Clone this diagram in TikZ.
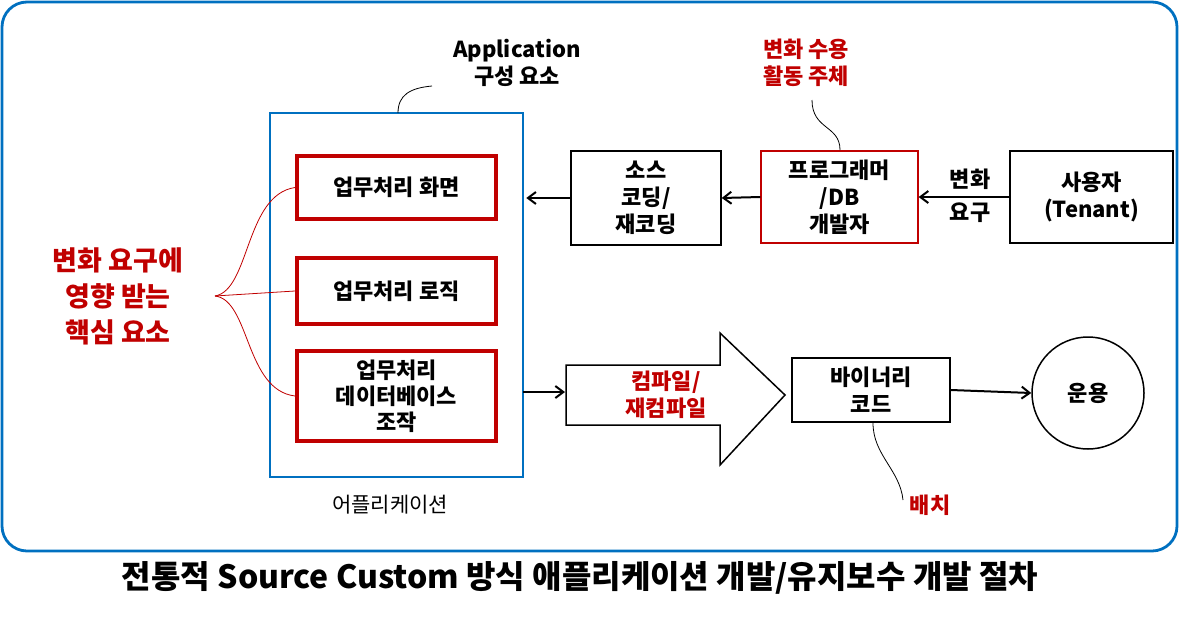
\documentclass[tikz,border=0pt]{standalone}
\usepackage{fontspec}
\setmainfont{Noto Sans CJK KR}
\usetikzlibrary{arrows.meta}
\definecolor{bl}{RGB}{0,112,192}
\definecolor{dr}{RGB}{192,0,0}
\begin{document}
\begin{tikzpicture}[x=1pt,y=-1pt,
  txt/.style={font=\fontsize{22}{27}\selectfont\bfseries,align=center},
  rbox/.style={draw=dr,line width=4pt,txt},
  kbox/.style={draw=black,line width=1.5pt,txt},
  arr/.style={-{Straight Barb[length=8pt,width=12pt]},line width=2pt},
  lead/.style={line width=0.8pt}]
\useasboundingbox (0,0) rectangle (1180,624);
\draw[bl,line width=2.8pt,rounded corners=25] (2,2) rectangle (1177,551);
\node[font=\fontsize{32}{36}\selectfont\bfseries] (title) at (580,578) {전통적 Source Custom 방식 애플리케이션 개발/유지보수 개발 절차};
\draw[bl,line width=1.3pt] (270,113) rectangle (523,477);
\node[rbox,minimum width=199pt,minimum height=63pt] (b1) at (396.5,187.5) {업무처리 화면};
\node[rbox,minimum width=199pt,minimum height=66pt] (b2) at (396.5,291) {업무처리 로직};
\node[rbox,minimum width=199pt,minimum height=90pt,font=\fontsize{22}{26}\selectfont\bfseries] (b3) at (396.5,396) {업무처리\\데이터베이스\\조작};
\node[txt] (appl) at (517,63) {Application\\구성 요소};
\coordinate (l1) at (398,113);
\draw[lead] (l1) .. controls (398,95) and (410,88) .. (432,86);
\node[font=\fontsize{21}{24}\selectfont] (apl) at (390,505) {어플리케이션};
\node[kbox,minimum width=150pt,minimum height=94pt] (src) at (646,198) {소스\\코딩/\\재코딩};
\node[draw=dr,line width=1.3pt,txt,minimum width=157pt,minimum height=92pt] (prog) at (839.5,197) {프로그래머\\/DB\\개발자};
\node[kbox,minimum width=163pt,minimum height=92pt] (user) at (1091.5,197) {사용자\\(Tenant)};
\node[txt,text=dr] (act) at (806,63) {변화 수용\\활동 주체};
\draw[lead] (840,150) .. controls (840,125) and (812,130) .. (812,100);
\node[txt] (req) at (970,196) {변화\\[6pt]요구};
\draw[arr] (user.west) -- (prog.east);
\draw[arr] (prog.west) -- (src.east);
\draw[arr] (src.west) -- ++(-44,0);
\node[font=\fontsize{27}{36}\selectfont\bfseries,text=dr,align=center] (core) at (118,296) {변화 요구에\\영향 받는\\핵심 요소};
\coordinate (c0) at (215,296);
\draw[dr,lead] (c0) .. controls (250,290) and (245,195) .. (b1.west);
\draw[dr,lead] (c0) -- (b2.west);
\draw[dr,lead] (c0) .. controls (250,300) and (245,390) .. (b3.west);
\draw[line width=1.5pt,fill=white] (566,365) -- (720,365) -- (720,333) -- (785,395) -- (720,465) -- (720,425) -- (566,425) -- cycle;
\node[txt,text=dr] (comp) at (666,395) {컴파일/\\재컴파일};
\draw[arr] (523,392) -- (565,392);
\node[kbox,minimum width=158pt,minimum height=64pt] (bin) at (871,390) {바이너리\\코드};
\node[draw,circle,line width=1.5pt,minimum size=112pt,txt] (op) at (1088,393) {운용};
\draw[arr] (bin.east) -- (op.west);
\node[txt,text=dr] (dep) at (930,505) {배치};
\draw[lead] (873,423) .. controls (873,455) and (900,470) .. (903,500);
\end{tikzpicture}
\end{document}
